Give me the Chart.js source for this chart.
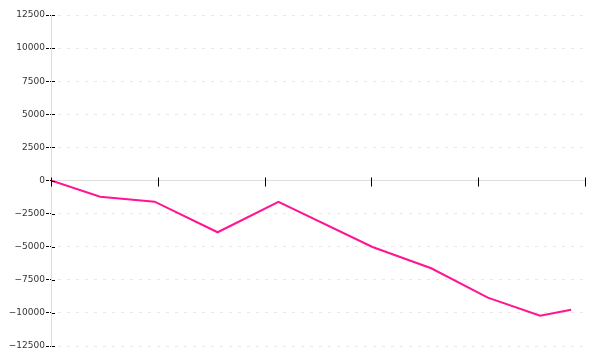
<!DOCTYPE html>
<html>
<head>
<meta charset="utf-8">
<script src="https://cdn.jsdelivr.net/npm/chart.js@4/dist/chart.umd.min.js"></script>
<style>
  html, body { margin: 0; padding: 0; background: #fff; }
  #wrap { width: 600px; height: 360px; }
</style>
</head>
<body>
<div id="wrap"><canvas id="grafico" width="600" height="360"></canvas></div>
<script>
// valores
const posicoesX = [0, 0.46, 0.97, 1.56, 2.13, 3.01, 3.56, 4.09, 4.58, 4.87];
const valoresY = [0, -1220, -1600, -3910, -1620, -5020, -6630, -8850, -10210, -9760];
const limitesY = [-12500, 12500];
const passoY = 2500;
const limitesX = [0, 5];

const pontos = posicoesX.map((x, i) => ({ x: x, y: valoresY[i] }));

// marquinhas pretas cruzando a linha do zero e o eixo y
const marcas = {
    id: 'marcas',
    afterDraw(chart) {
        const sx = chart.scales.x;
        const sy = chart.scales.y;
        const y0 = Math.round(sy.getPixelForValue(0)) + 0.5;
        const ctx = chart.ctx;
        ctx.save();
        ctx.strokeStyle = '#000';
        ctx.lineWidth = 1;
        sx.ticks.forEach((t, i) => {
            const x = Math.round(sx.getPixelForTick(i)) + 0.5;
            ctx.beginPath();
            ctx.moveTo(x, y0 - 4);
            ctx.lineTo(x, y0 + 5);
            ctx.stroke();
        });
        const xe = Math.round(sy.right);
        sy.ticks.forEach((t, i) => {
            const y = Math.round(sy.getPixelForTick(i)) + 0.5;
            ctx.beginPath();
            ctx.moveTo(xe + 1, y);
            ctx.lineTo(xe + 4, y);
            ctx.stroke();
        });
        ctx.restore();
    }
};

const ctx = document.getElementById('grafico').getContext('2d');
new Chart(ctx, {
    type: 'line',
    data: {
        datasets: [{
            data: pontos,
            borderColor: '#ff1493',
            borderWidth: 2,
            pointRadius: 0,
            tension: 0,
            fill: false
        }]
    },
    options: {
        responsive: false,
        animation: false,
        layout: { padding: { top: 15, bottom: 14, right: 15, left: 0 } },
        plugins: { legend: { display: false }, tooltip: { enabled: false } },
        scales: {
            x: {
                type: 'linear',
                position: { y: 0 },
                min: limitesX[0],
                max: limitesX[1],
                ticks: { display: false, stepSize: 1 },
                grid: { drawOnChartArea: false, drawTicks: false },
                border: { color: '#dddddd', width: 1 }
            },
            y: {
                min: limitesY[0],
                max: limitesY[1],
                afterFit: (s) => { s.width = 51; },
                ticks: {
                    stepSize: passoY,
                    padding: 1,
                    color: '#333',
                    font: { family: 'DejaVu Sans', size: 9 },
                    callback: (v) => String(v).replace('-', '\u2212')
                },
                grid: {
                    color: '#e8e8e8',
                    tickColor: '#000',
                    tickLength: 5,
                    tickBorderDash: [3, 1]
                },
                border: { color: '#dddddd', width: 1, dash: [3, 6], dashOffset: -6 }
            }
        }
    },
    plugins: [marcas]
});
</script>
</body>
</html>
